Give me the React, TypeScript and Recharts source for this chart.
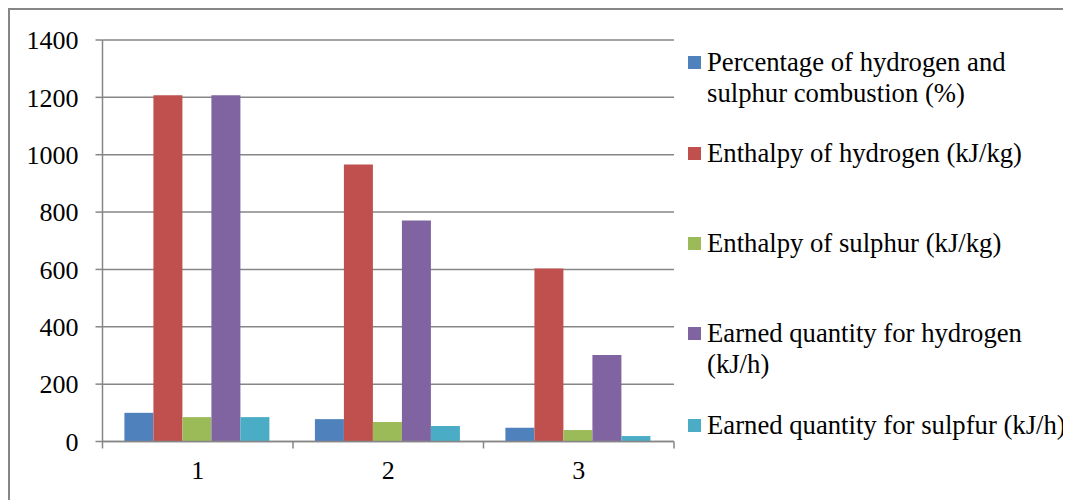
import { Bar, BarChart, CartesianGrid, XAxis, YAxis } from "recharts";

const categories = ["1", "2", "3"];
const combustionPct = [100, 78, 48];
const hydrogenEnthalpy = [1207, 966, 603];
const sulphurEnthalpy = [85, 68, 40];
const hydrogenEarned = [1207, 771, 302];
const sulphurEarned = [85, 54, 19];
const yTicks = [0, 200, 400, 600, 800, 1000, 1200, 1400];

const series = [
  { key: "pct", name: "Percentage of hydrogen and sulphur combustion (%)", color: "#4F81BD", values: combustionPct },
  { key: "hEnth", name: "Enthalpy of hydrogen (kJ/kg)", color: "#C0504D", values: hydrogenEnthalpy },
  { key: "sEnth", name: "Enthalpy of sulphur (kJ/kg)", color: "#9BBB59", values: sulphurEnthalpy },
  { key: "hEarn", name: "Earned quantity for hydrogen (kJ/h)", color: "#8064A2", values: hydrogenEarned },
  { key: "sEarn", name: "Earned quantity for sulpfur (kJ/h)", color: "#4BACC6", values: sulphurEarned },
];

const data = categories.map((name, i) => {
  const row: Record<string, string | number> = { name };
  series.forEach((s) => (row[s.key] = s.values[i]));
  return row;
});

const FONT = '"Liberation Serif", serif';
const GRID = "#868686";
const W = 1061;
const H = 490;
const MARGIN = { top: 30, right: 397, bottom: 18.5, left: 0 };
const Y_W = 92.5;
const BAND = (W - MARGIN.left - MARGIN.right - Y_W) / categories.length;
const TICK = 7;
const X_TICK_MARGIN = 12;

// category labels with tick marks on the band edges
function CategoryTick(props: any) {
  const { x, y, payload, index } = props;
  const axisY = y - TICK - X_TICK_MARGIN;
  const half = BAND / 2;
  const last = index === categories.length - 1;
  return (
    <g>
      <line x1={x - half} x2={x - half} y1={axisY} y2={axisY + TICK} stroke={GRID} strokeWidth={1.5} />
      {last && <line x1={x + half} x2={x + half} y1={axisY} y2={axisY + TICK} stroke={GRID} strokeWidth={1.5} />}
      <text x={x} y={y} dy="0.71em" textAnchor="middle" fontSize={26} style={{ fontFamily: FONT }} fill="#000">
        {payload.value}
      </text>
    </g>
  );
}

const legendGaps = [36.5, 29, 59, 59, 30];

export default function App() {
  return (
    <div
      style={{
        position: "relative",
        width: 1063,
        height: 492,
        boxSizing: "border-box",
        borderLeft: `2px solid ${GRID}`,
        borderTop: `2px solid ${GRID}`,
        background: "#fff",
        fontFamily: FONT,
      }}
    >
      <BarChart width={W} height={H} data={data} margin={MARGIN} barCategoryGap="11.5%" barGap={0} style={{ fontFamily: FONT }}>
        <CartesianGrid vertical={false} stroke={GRID} strokeWidth={1.5} />
        <XAxis
          dataKey="name"
          height={40}
          axisLine={{ stroke: GRID, strokeWidth: 1.5 }}
          tickLine={false}
          tickSize={TICK}
          tickMargin={X_TICK_MARGIN}
          tick={<CategoryTick />}
          interval={0}
        />
        <YAxis
          width={Y_W}
          domain={[0, 1400]}
          ticks={yTicks}
          interval={0}
          axisLine={{ stroke: GRID, strokeWidth: 1.5 }}
          tickLine={{ stroke: GRID, strokeWidth: 1.5 }}
          tickSize={TICK}
          tickMargin={17}
          tick={{ fontSize: 26, fill: "#000", style: { fontFamily: FONT } }}
        />
        {series.map((s) => (
          <Bar key={s.key} dataKey={s.key} name={s.name} fill={s.color} isAnimationActive={false} />
        ))}
      </BarChart>
      <div style={{ position: "absolute", left: 678, top: 0, fontFamily: FONT, fontSize: 26.7, lineHeight: "31px" }}>
        {series.map((s, i) => (
          <div key={s.key} style={{ display: "flex", alignItems: "flex-start", marginTop: legendGaps[i] }}>
            <span style={{ width: 13, height: 13, marginTop: 9, marginRight: 6, background: s.color, flex: "none" }} />
            <span style={{ width: 368, color: "#000" }}>{s.name}</span>
          </div>
        ))}
      </div>
    </div>
  );
}
